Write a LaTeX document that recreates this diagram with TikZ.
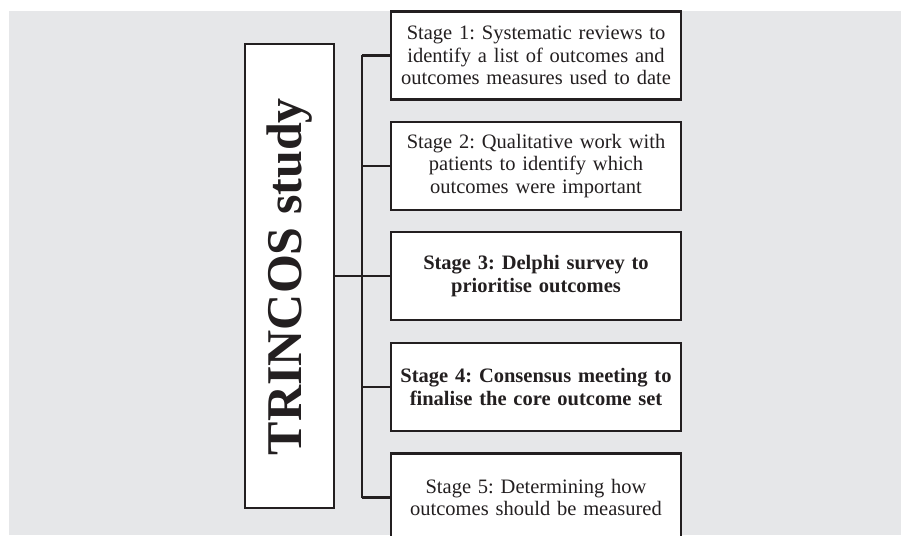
\documentclass[tikz,border=0pt]{standalone}
\usepackage{fontspec}
\setmainfont{Liberation Serif}
\definecolor{bggray}{HTML}{E6E7E9}
\definecolor{ink}{HTML}{231F20}
\begin{document}
\frenchspacing
\begin{tikzpicture}[x=1pt,y=-1pt,
  stagebox/.style={draw=ink, line width=2.1pt, fill=white, text=ink,
    minimum width=290pt, minimum height=88pt, text width=284pt, align=center,
    inner sep=0pt, font=\fontsize{20.5}{22.5}\selectfont},
  mainbox/.style={draw=ink, line width=2.1pt, fill=white, text=ink,
    minimum width=89pt, minimum height=464pt, inner sep=0pt},
  conn/.style={draw=ink, line width=2.2pt}]
\clip (0,0) rectangle (901,535);
\fill[bggray] (9,11) rectangle (901,535);
\node[mainbox] (main) at (289.5,276) {};
\node[text=ink, rotate=90, font=\fontsize{50}{55}\bfseries, anchor=center] (title) at (290,276.5) {TRINCOS study};
\node[stagebox] (s1) at (536,55.5) {Stage 1: Systematic reviews to\\identify a list of outcomes and\\outcomes measures used to date};
\node[stagebox] (s2) at (536,166) {Stage 2: Qualitative work with\\patients to identify which\\outcomes were important};
\node[stagebox, font=\fontsize{20.5}{22.5}\selectfont\bfseries] (s3) at (536,276) {Stage 3: Delphi survey to\\prioritise outcomes};
\node[stagebox, font=\fontsize{20.5}{22.5}\selectfont\bfseries] (s4) at (536,387) {Stage 4: Consensus meeting to\\finalise the core outcome set};
\node[stagebox] (s5) at (536,497.5) {Stage 5: Determining how\\outcomes should be measured};
\coordinate (t1) at (362,0 |- s1.west);
\coordinate (t5) at (362,0 |- s5.west);
\draw[conn] (t1) -- (t5);
\draw[conn] (main.east) -- (s3.west);
\foreach \s in {s1,s2,s4,s5} \draw[conn] (t1 |- \s.west) -- (\s.west);
\end{tikzpicture}
\end{document}
